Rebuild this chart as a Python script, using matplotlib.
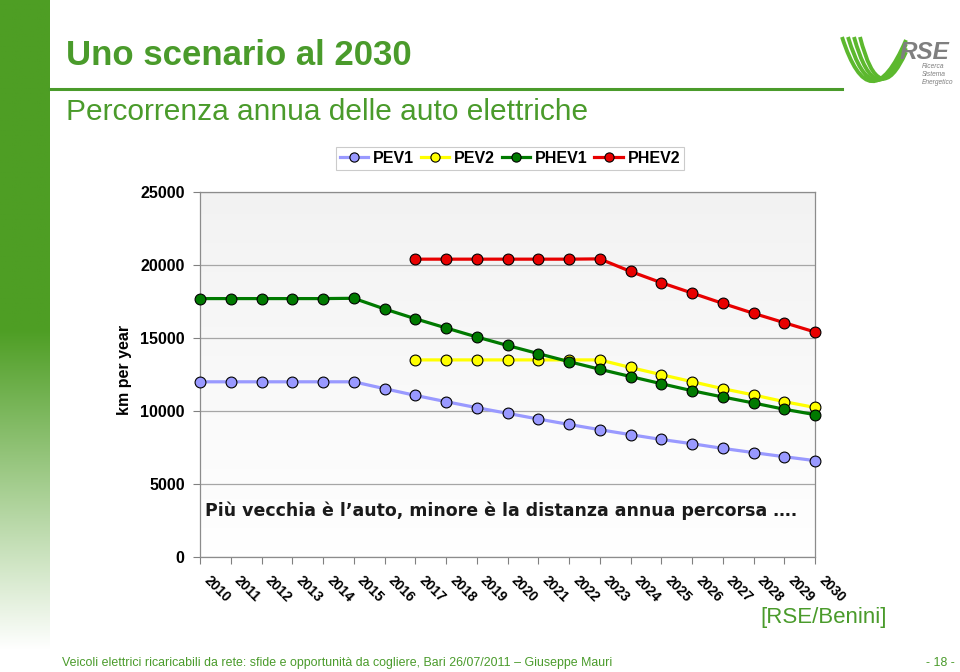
import numpy as np
import matplotlib
matplotlib.use("Agg")
import matplotlib.pyplot as plt
from matplotlib.path import Path
from matplotlib.patches import PathPatch
from matplotlib.transforms import ScaledTranslation
from matplotlib.lines import Line2D

nan = np.nan
years = list(range(2010, 2031))
year_labels = [str(y) for y in years]
pev1 = [12000, 12000, 12000, 12000, 12000, 12000, 11530, 11070, 10640, 10230, 9840,
        9450, 9080, 8720, 8380, 8050, 7760, 7440, 7150, 6870, 6600]
pev2 = [nan, nan, nan, nan, nan, nan, nan, 13500, 13500, 13500, 13500, 13500, 13500,
        13500, 12980, 12490, 12010, 11530, 11100, 10640, 10240]
phev1 = [17700, 17700, 17700, 17700, 17700, 17720, 16990, 16320, 15690, 15070, 14490,
         13930, 13380, 12860, 12360, 11870, 11390, 10960, 10550, 10120, 9750]
phev2 = [nan, nan, nan, nan, nan, nan, nan, 20400, 20400, 20400, 20400, 20400, 20400,
         20420, 19560, 18790, 18080, 17370, 16690, 16050, 15410]
series_names = ["PEV1", "PEV2", "PHEV1", "PHEV2"]
series_values = [pev1, pev2, phev1, phev2]
series_colors = ["#9999ff", "#ffff00", "#007a00", "#e80000"]
yticks = [0, 5000, 10000, 15000, 20000, 25000]

GREEN = "#4a9b2b"
W, H = 960, 672
fig = plt.figure(figsize=(9.6, 6.72), dpi=100)
plt.rcParams['font.family'] = ['Liberation Sans', 'DejaVu Sans']

def fx(x):
    return x / W

def fy(y):
    return 1 - y / H

# left green bar with fade
bar_ax = fig.add_axes([0, 0, 50 / W, 1])
bar_ax.axis("off")
n = 400
t = np.linspace(0, 1, n)  # 0 top, 1 bottom
frac = np.clip((t * H - 330) / (650 - 330), 0, 1)
base = np.array([0x4e, 0x9e, 0x24]) / 255.0
col = base[None, :] * (1 - frac[:, None]) + np.ones(3)[None, :] * frac[:, None]
img = np.repeat(col[:, None, :], 2, axis=1)
bar_ax.imshow(img, aspect="auto", extent=[0, 1, 0, 1], transform=bar_ax.transAxes)
bar_ax.set_xlim(0, 1)
bar_ax.set_ylim(0, 1)

# header
fig.text(fx(66), fy(65), "Uno scenario al 2030", fontsize=25, fontweight="bold",
         color=GREEN, va="baseline", ha="left")
fig.add_artist(Line2D([fx(50), fx(842)], [fy(89), fy(89)], color=GREEN, lw=2.2))
fig.text(fx(66), fy(120), "Percorrenza annua delle auto elettriche", fontsize=21.5,
         color=GREEN, va="baseline", ha="left")

# logo
logo_green = "#5cb82e"
for i in range(4):
    verts = [(fx(842 + 6 * i), fy(37)), (fx(870 + 3 * i), fy(124 - 4 * i)),
             (fx(906), fy(40 + 4 * i))]
    p = Path(verts, [Path.MOVETO, Path.CURVE3, Path.CURVE3])
    fig.add_artist(PathPatch(p, fc="none", ec=logo_green, lw=2.8,
                             transform=fig.transFigure))
fig.text(fx(900), fy(59), "RSE", fontsize=17.5, fontweight="bold", style="italic",
         color="#7f7f7f", va="baseline", ha="left")
for j, w in enumerate(["Ricerca", "Sistema", "Energetico"]):
    fig.text(fx(922), fy(66 + 8.5 * j), w, fontsize=4.8, style="italic",
             color="#7f7f7f", va="center", ha="left")

# chart
ax = fig.add_axes([fx(200), fy(557), 615 / W, 365 / H])
grad = np.linspace(0.95, 1.0, 100)[:, None] * np.ones((100, 2))
ax.imshow(np.dstack([grad, grad, grad]), aspect="auto", extent=[0, 1, 0, 1],
          transform=ax.transAxes, zorder=0, origin="upper")
for name, vals, c in zip(series_names, series_values, series_colors):
    ax.plot(years, vals, color=c, lw=2.3, marker="o", markersize=7.8,
            markerfacecolor=c, markeredgecolor="black", markeredgewidth=0.8,
            label=name, zorder=3, clip_on=False)
ax.set_xlim(years[0], years[-1])
ax.set_ylim(yticks[0], yticks[-1])
ax.set_yticks(yticks)
ax.set_yticklabels([str(v) for v in yticks], fontsize=11.5, fontweight="bold")
ax.set_xticks(years)
ax.set_xticklabels([])
lab_tr = ax.get_xaxis_transform() + ScaledTranslation(11 / 100, -16 / 100, fig.dpi_scale_trans)
for yr, lab in zip(years, year_labels):
    ax.text(yr, 0, lab, transform=lab_tr, fontsize=10, fontweight="bold",
            rotation=-45, ha="left", va="top", rotation_mode="anchor", clip_on=False)
ax.tick_params(axis="y", length=5, width=0.8, color="#808080", pad=6, direction="out")
ax.tick_params(axis="x", length=5, width=0.8, color="#808080", direction="out")
ax.grid(axis="y", color="#a6a6a6", lw=0.9, zorder=1)
ax.set_axisbelow(True)
for s in ax.spines.values():
    s.set_color("#8c8c8c")
    s.set_linewidth(0.9)
ax.text(0.008, 5000 - 1800, "Più vecchia è l\u2019auto, minore è la distanza annua percorsa \u2026.",
        transform=ax.get_yaxis_transform(), fontsize=12.5, fontweight="bold",
        family=["DejaVu Sans"], color="#1a1a1a", va="center", ha="left", zorder=4)

fig.text(fx(124), fy(370), "km per year", rotation=90, fontsize=11.5,
         fontweight="bold", ha="center", va="center")

handles, labels = ax.get_legend_handles_labels()
leg = fig.legend(handles, labels, ncol=4, loc="center",
                 bbox_to_anchor=(fx(510), fy(158.5)),
                 prop={"weight": "bold", "size": 11.5}, frameon=True,
                 fancybox=False, edgecolor="#bfbfbf", handlelength=1.8,
                 handletextpad=0.3, columnspacing=0.4, borderpad=0.25,
                 markerscale=0.85)
leg.get_frame().set_linewidth(0.8)

fig.text(fx(760), fy(618), "[RSE/Benini]", fontsize=16, color=GREEN,
         ha="left", va="center")
fig.text(fx(62), fy(666), "Veicoli elettrici ricaricabili da rete: sfide e opportunità da cogliere, Bari 26/07/2011 \u2013 Giuseppe Mauri",
         fontsize=8.9, color=GREEN, ha="left", va="baseline")
fig.text(fx(955), fy(666), "- 18 -", fontsize=8.9, color=GREEN, ha="right", va="baseline")

fig.savefig("out.png", dpi=100)
